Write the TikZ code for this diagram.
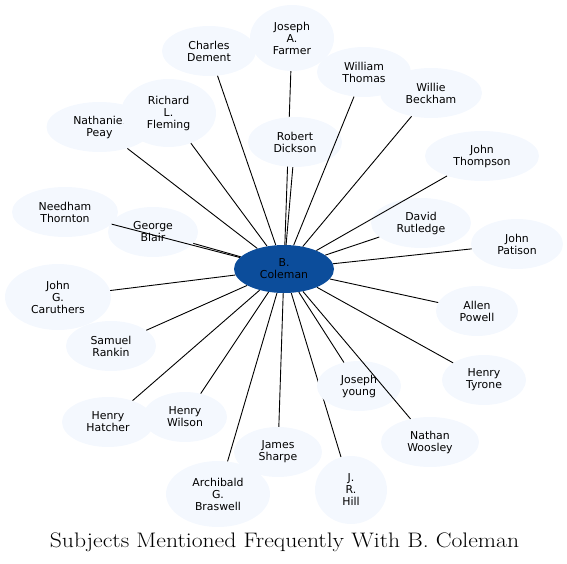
\documentclass[tikz,border=0pt]{standalone}
\usepackage{fontspec}
\newfontfamily\dejavu{DejaVu Sans}
\usetikzlibrary{shapes.geometric}
\pgfdeclarelayer{back}
\pgfdeclarelayer{front}
\pgfdeclarelayer{top}
\pgfsetlayers{back,main,front,top}
\definecolor{lightnode}{RGB}{244,248,254}
\definecolor{darknode}{RGB}{12,77,155}
\tikzset{
  person/.style={ellipse, fill=lightnode, inner sep=0pt, align=center,
    font=\dejavu\fontsize{10.9}{12}\selectfont, text=black},
  hub/.style={ellipse, fill=darknode, inner sep=0pt, align=center,
    font=\dejavu\fontsize{10.9}{12}\selectfont, text=black},
  link/.style={draw=black, line width=0.9pt},
}
\newcommand{\pnode}[6]{\node[person, minimum width=#4pt, minimum height=#5pt] (#1) at (#2,#3) {#6};}
\begin{document}
\begin{tikzpicture}[x=1pt,y=-1pt]
\useasboundingbox (0,0) rectangle (567,564);
% satellite nodes
\pnode{farmer}{292}{38}{84}{66}{Joseph\\A.\\Farmer}
\pnode{dement}{209}{51}{94}{50}{Charles\\Dement}
\pnode{thomas}{364}{72}{94}{50}{William\\Thomas}
\pnode{beckham}{431}{93}{102}{50}{Willie\\Beckham}
\pnode{dickson}{295}{142}{94}{50}{Robert\\Dickson}
\pnode{peay}{99.5}{127}{106}{50}{Nathaniel\\Peay}
\pnode{fleming}{168.5}{113}{95}{68}{Richard\\L.\\Fleming}
\pnode{thompson}{482}{156}{114}{50}{John\\Thompson}
\pnode{rutledge}{421}{223}{100}{50}{David\\Rutledge}
\pnode{patison}{517}{244}{92}{50}{John\\Patison}
\pnode{needham}{65}{212}{106}{50}{Needham\\Thornton}
\pnode{blair}{153}{232}{90}{50}{George\\Blair}
\pnode{caruthers}{58}{297}{106}{66}{John\\G.\\Caruthers}
\pnode{rankin}{111}{346}{90}{50}{Samuel\\Rankin}
\pnode{hatcher}{108}{422}{92}{50}{Henry\\Hatcher}
\pnode{wilson}{185}{417}{84}{50}{Henry\\Wilson}
\pnode{sharpe}{278}{452}{88}{50}{James\\Sharpe}
\pnode{braswell}{218}{494}{104}{66}{Archibald\\G.\\Braswell}
\pnode{young}{359}{386}{84}{50}{Joseph\\young}
\pnode{hill}{351}{490}{72}{68}{J.\\R.\\Hill}
\pnode{woosley}{430}{442}{98}{50}{Nathan\\Woosley}
\pnode{powell}{477}{311}{82}{50}{Allen\\Powell}
\pnode{tyrone}{484}{380}{84}{50}{Henry\\Tyrone}
% hub
\begin{pgfonlayer}{top}
\node[hub, minimum width=100pt, minimum height=48pt] (coleman) at (284,269) {B.\\Coleman};
\end{pgfonlayer}
% edges hidden behind other nodes
\begin{pgfonlayer}{back}
\foreach \t in {farmer,hill} \draw[link] (coleman) -- (\t);
\end{pgfonlayer}
% edges drawn over nodes
\begin{pgfonlayer}{front}
\foreach \t in {dement,thomas,beckham,dickson,peay,fleming,thompson,rutledge,patison,needham,blair,caruthers,rankin,hatcher,wilson,sharpe,braswell,young,woosley,powell,tyrone}
  \draw[link] (coleman) -- (\t);
\end{pgfonlayer}
% title
\node[font=\fontsize{21}{25}\selectfont, inner sep=0pt] (title) at (284.5,542) {\scalebox{1.125}[1]{Subjects Mentioned Frequently With B. Coleman}};
\end{tikzpicture}
\end{document}
